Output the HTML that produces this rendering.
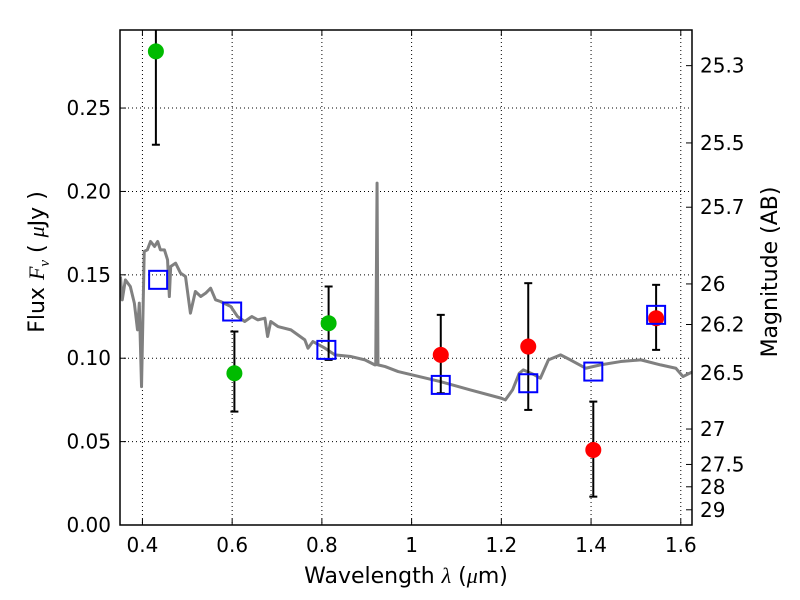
<!DOCTYPE html>
<html><head><meta charset="utf-8"><style>
body{margin:0;background:#fff}
svg{display:block;font-family:"DejaVu Sans","Liberation Sans",sans-serif}
</style></head><body>
<svg id="chart" width="800" height="600"></svg>
<script>
const xTicks=[0.4,0.6,0.8,1,1.2,1.4,1.6];
const xTickLabels=["0.4","0.6","0.8","1","1.2","1.4","1.6"];
const yTicks=[0,0.05,0.10,0.15,0.20,0.25];
const yTickLabels=["0.00","0.05","0.10","0.15","0.20","0.25"];
const magTicks=[25.3,25.5,25.7,26,26.2,26.5,27,27.5,28,29];
const magTickLabels=["25.3","25.5","25.7","26","26.2","26.5","27","27.5","28","29"];
const specLam=[0.351,0.355,0.362,0.373,0.382,0.389,0.393,0.398,0.404,0.411,0.418,0.427,0.434,0.440,0.449,0.456,0.460,0.463,0.474,0.485,0.496,0.507,0.518,0.530,0.541,0.552,0.563,0.574,0.597,0.612,0.628,0.644,0.657,0.673,0.679,0.686,0.702,0.731,0.762,0.769,0.780,0.807,0.829,0.865,0.896,0.918,0.920,0.923,0.925,0.941,0.970,1.064,1.131,1.200,1.209,1.225,1.240,1.249,1.274,1.287,1.305,1.332,1.354,1.388,1.421,1.466,1.511,1.555,1.589,1.605,1.627];
const specFlux=[0.149,0.135,0.147,0.143,0.133,0.117,0.133,0.083,0.164,0.165,0.170,0.167,0.170,0.165,0.165,0.159,0.137,0.155,0.157,0.151,0.149,0.127,0.140,0.137,0.139,0.142,0.135,0.134,0.131,0.125,0.122,0.125,0.123,0.124,0.113,0.122,0.119,0.117,0.111,0.106,0.110,0.106,0.102,0.101,0.099,0.096,0.096,0.205,0.096,0.095,0.092,0.086,0.081,0.076,0.075,0.081,0.091,0.093,0.090,0.088,0.099,0.102,0.099,0.094,0.096,0.098,0.099,0.096,0.094,0.089,0.092];
const greenLam=[0.43,0.605,0.815];
const greenFlux=[0.284,0.091,0.121];
const greenLo=[0.228,0.068,0.099];
const greenHi=[0.34,0.116,0.143];
const redLam=[1.065,1.26,1.405,1.545];
const redFlux=[0.102,0.107,0.045,0.124];
const redLo=[0.079,0.069,0.017,0.105];
const redHi=[0.126,0.145,0.074,0.144];
const modelLam=[0.435,0.6,0.81,1.065,1.26,1.405,1.545];
const modelFlux=[0.147,0.128,0.105,0.084,0.085,0.092,0.126];

const L=120,R=692,T=30,B=525,xMin=0.35,xMax=1.625,yMin=0,yMax=0.2968;
const X=v=>L+(v-xMin)/(xMax-xMin)*(R-L);
const Y=v=>B-(v-yMin)/(yMax-yMin)*(B-T);
const magToFlux=m=>Math.pow(10,(23.9-m)/2.5);
const svg=document.getElementById('chart');
const NS='http://www.w3.org/2000/svg';
function el(t,a,p){const e=document.createElementNS(NS,t);for(const k in a)e.setAttribute(k,a[k]);(p||svg).appendChild(e);return e;}

const clip=el('clipPath',{id:'cp'});el('rect',{x:L,y:T,width:R-L,height:B-T},clip);
const grid=el('g',{});


xTicks.forEach((t,i)=>{
  const x=X(t);
  el('line',{x1:x,x2:x,y1:T,y2:B,stroke:'#000','stroke-dasharray':'1,3','stroke-width':1},grid);
  el('line',{x1:x,x2:x,y1:B,y2:B-6,stroke:'#000'});
  el('line',{x1:x,x2:x,y1:T,y2:T+6,stroke:'#000'});
  const tx=el('text',{x:x,y:B+27,'text-anchor':'middle','font-size':20});
  tx.textContent=xTickLabels[i];
  
  
});
yTicks.forEach((t,i)=>{
  const y=Y(t);
  el('line',{x1:L,x2:R,y1:y,y2:y,stroke:'#000','stroke-dasharray':'1,3','stroke-width':1},grid);
  el('line',{x1:L,x2:L+6,y1:y,y2:y,stroke:'#000'});
  const tx=el('text',{x:L-9,y:y+7,'text-anchor':'end','font-size':20});
  tx.textContent=yTickLabels[i];
  
  
});
magTicks.forEach((m,i)=>{
  const y=Y(magToFlux(m));
  el('line',{x1:R,x2:R-6,y1:y,y2:y,stroke:'#000'});
  const tx=el('text',{x:R+8,y:y+7,'text-anchor':'start','font-size':20});
  tx.textContent=magTickLabels[i];
  
  
});

const plot=el('g',{'clip-path':'url(#cp)'});
const sp=el('polyline',{points:specLam.map((l,i)=>X(l)+','+Y(specFlux[i])).join(' '),fill:'none',stroke:'#808080','stroke-width':3,'stroke-linejoin':'round'},plot);



function errs(lam,lo,hi,g){lam.forEach((l,i)=>{const x=X(l);
  el('line',{x1:x,x2:x,y1:Y(lo[i]),y2:Y(hi[i]),stroke:'#000','stroke-width':2},g);
  el('line',{x1:x-4,x2:x+4,y1:Y(lo[i]),y2:Y(lo[i]),stroke:'#000','stroke-width':2},g);
  el('line',{x1:x-4,x2:x+4,y1:Y(hi[i]),y2:Y(hi[i]),stroke:'#000','stroke-width':2},g);});}
errs(greenLam,greenLo,greenHi,plot);
errs(redLam,redLo,redHi,plot);
greenLam.forEach((l,i)=>{const c=el('circle',{cx:X(l),cy:Y(greenFlux[i]),r:8,fill:'#00bb00'},plot);
  
  });
redLam.forEach((l,i)=>{const c=el('circle',{cx:X(l),cy:Y(redFlux[i]),r:8,fill:'#ff0000'},plot);
  
  });
modelLam.forEach((l,i)=>{const r=el('rect',{x:X(l)-9,y:Y(modelFlux[i])-9,width:18,height:18,fill:'none',stroke:'#0000ff','stroke-width':2},plot);
  
  });

const fr=el('rect',{x:L,y:T,width:R-L,height:B-T,fill:'none',stroke:'#000','stroke-width':1.5});


const xl=el('text',{x:406,y:583,'text-anchor':'middle','font-size':22});
xl.innerHTML='Wavelength  <tspan font-family="Liberation Serif" font-style="italic">λ</tspan> (<tspan font-family="Liberation Serif" font-style="italic">μ</tspan>m)';


const yl=el('text',{x:0,y:0,'text-anchor':'middle','font-size':22,transform:'translate(44,262) rotate(-90)'});
yl.innerHTML='Flux  <tspan font-family="Liberation Serif" font-style="italic">F</tspan><tspan font-family="Liberation Serif" font-style="italic" font-size="15" dy="5">ν</tspan><tspan dy="-5">  (  </tspan><tspan font-family="Liberation Serif" font-style="italic">μ</tspan>Jy )';


const ml=el('text',{x:0,y:0,'text-anchor':'middle','font-size':22,transform:'translate(777,272) rotate(-90)'});
ml.textContent='Magnitude (AB)';


</script>
</body></html>
